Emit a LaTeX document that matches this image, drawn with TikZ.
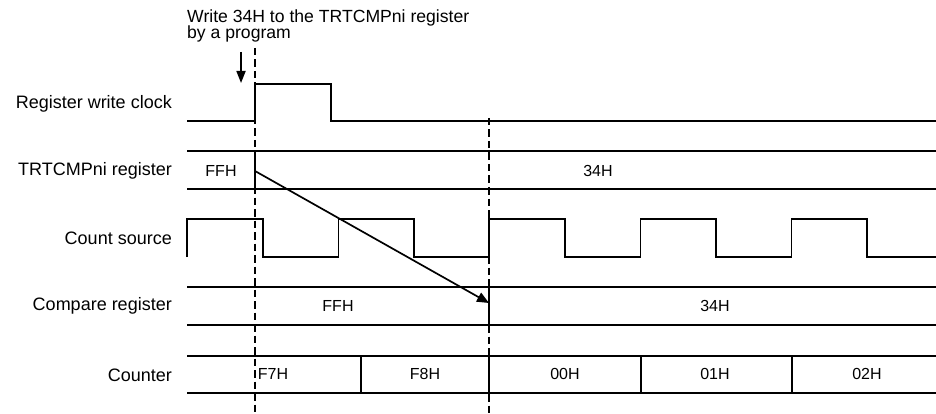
\documentclass[tikz,border=0pt]{standalone}
\usepackage{fontspec}
\setmainfont{Liberation Sans}
\usetikzlibrary{arrows.meta}

\begin{document}
\begin{tikzpicture}[x=1pt,y=-1pt]
    % ===== PARAMETERS =====
    \pgfmathsetmacro{\Xl}{187}   % left end of the waveforms
    \pgfmathsetmacro{\Xr}{936}   % right end of the waveforms
    \pgfmathsetmacro{\Ta}{255}   % write timing
    \pgfmathsetmacro{\Tb}{489}   % reload timing
    \pgfmathsetmacro{\LW}{1.7}   % line width in pt

    \tikzset{
        sig/.style={line width=\LW pt},
        marker/.style={line width=2.5pt, dash pattern=on 7.5pt off 4pt},
        siglabel/.style={font=\fontsize{18}{20}\selectfont, anchor=east, inner sep=0pt},
        value/.style={font=\fontsize{16}{18}\selectfont, inner sep=0pt}
    }

    \useasboundingbox (0,0) rectangle (936,414);

    % ===== TEXT OUTSIDE WAVES =====
    \node[anchor=north west, align=left, inner sep=0pt,
          font=\fontsize{17.6}{16.5}\selectfont] (note) at (187,9.5)
        {Write 34H to the TRTCMPni register\\by a program};

    % Signal names (right aligned)
    \node[siglabel] (wclk)  at (172,104) {Register write clock};
    \node[siglabel] (treg)  at (172,171) {TRTCMPni register};
    \node[siglabel] (csrc)  at (172,238) {Count source};
    \node[siglabel] (creg)  at (172,306) {Compare register};
    \node[siglabel] (cnt)   at (172,375) {Counter};

    % ===== DRAWING =====
    % Register write clock
    \draw[sig] (\Xl,121) -- (\Ta,121) -- (\Ta,84) -- (331,84) -- (331,121) -- (\Xr,121);

    % TRTCMPni register
    \draw[sig] (\Xl,151) -- (\Xr,151);
    \draw[sig] (\Xl,189) -- (\Xr,189);
    \draw[sig] (\Ta,151) -- (\Ta,189);
    \node[value] (tffh) at (221,171) {FFH};
    \node[value] (t34h) at (598,171) {34H};

    % Count source
    \draw[sig] (\Xl,257) -- (\Xl,219) -- (263,219) -- (263,257)
        -- (338.5,257) -- (338.5,219) -- (414,219) -- (414,257)
        -- (\Tb,257) -- (\Tb,219) -- (565,219) -- (565,257)
        -- (640.5,257) -- (640.5,219) -- (716,219) -- (716,257)
        -- (791.5,257) -- (791.5,219) -- (867,219) -- (867,257) -- (\Xr,257);

    % Compare register
    \draw[sig] (\Xl,287) -- (\Xr,287);
    \draw[sig] (\Xl,325) -- (\Xr,325);
    \draw[sig] (\Tb,287) -- (\Tb,325);
    \node[value] (cffh) at (338,306) {FFH};
    \node[value] (c34h) at (715,306) {34H};

    % Counter
    \draw[sig] (\Xl,356) -- (\Xr,356);
    \draw[sig] (\Xl,393) -- (\Xr,393);
    \foreach \x in {361,\Tb,641,792}
        \draw[sig] (\x,356) -- (\x,393);
    \node[value] (f7h) at (273,374) {F7H};
    \node[value] (f8h) at (425,374) {F8H};
    \node[value] (z0h) at (565,374) {00H};
    \node[value] (z1h) at (715,374) {01H};
    \node[value] (z2h) at (867,374) {02H};

    % Timing markers
    \draw[marker] (\Ta,48) -- (\Ta,414);
    \draw[marker] (\Tb,118) -- (\Tb,414);

    % ===== ARROWS =====
    \coordinate (pgm)    at (241,52);
    \coordinate (pgmend) at (241,83);
    \draw[sig, -{Triangle[length=12pt,width=9pt]}] (pgm) -- (pgmend);

    \coordinate (wrpt) at (\Ta,171);
    \coordinate (ldpt) at (\Tb,303);
    \draw[sig, -{Triangle[length=12pt,width=10pt]}] (wrpt) -- (ldpt);
\end{tikzpicture}
\end{document}
